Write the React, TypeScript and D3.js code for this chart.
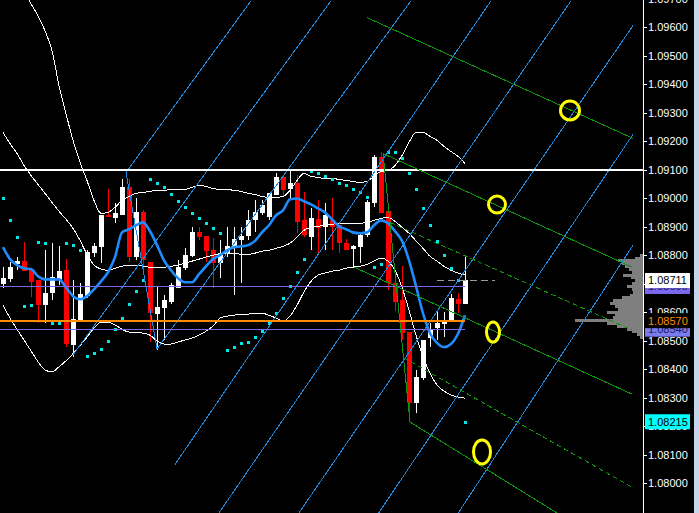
import React from 'react';
import * as d3 from 'd3';

const W = 699;
const H = 513;
const AXIS_X = 643;

// ---- candle data (bar index 0..66) ----
const opens = [
  1.08698, 1.08715, 1.08768, 1.08779, 1.08747, 1.08712, 1.08624, 1.08666, 1.08712, 1.08747,
  1.08484, 1.08572, 1.08656, 1.08807, 1.08828, 1.08940, 1.08929, 1.08940, 1.09038, 1.08793,
  1.08950, 1.08775, 1.08593, 1.08614, 1.08635, 1.08684, 1.08754, 1.08796, 1.08880, 1.08866,
  1.08817, 1.08772, 1.08807, 1.08828, 1.08852, 1.08866, 1.08922, 1.08947, 1.08933, 1.09010,
  1.09073, 1.09031, 1.09052, 1.08922, 1.08863, 1.08926, 1.08898, 1.08922, 1.08905, 1.08842,
  1.08821, 1.08828, 1.08870, 1.08982, 1.09143, 1.08954, 1.08701, 1.08642, 1.08530, 1.08281,
  1.08369, 1.08509, 1.08544, 1.08558, 1.08568, 1.08645, 1.08628,
];
const highs = [
  1.08758, 1.08775, 1.08793, 1.08845, 1.08747, 1.08712, 1.08817, 1.08842, 1.08831, 1.08786,
  1.08712, 1.08701, 1.08817, 1.08842, 1.08940, 1.09031, 1.08982, 1.09069, 1.09069, 1.08999,
  1.08957, 1.08775, 1.08687, 1.08659, 1.08701, 1.08782, 1.08824, 1.08898, 1.08898, 1.08866,
  1.08859, 1.08852, 1.08898, 1.08898, 1.08898, 1.08957, 1.08992, 1.08992, 1.09017, 1.09090,
  1.09080, 1.09097, 1.09080, 1.09020, 1.08964, 1.08992, 1.08982, 1.08999, 1.08905, 1.08856,
  1.08835, 1.08877, 1.08992, 1.09150, 1.09161, 1.08954, 1.08701, 1.08761, 1.08530, 1.08397,
  1.08502, 1.08561, 1.08600, 1.08600, 1.08663, 1.08666, 1.08793,
];
const lows = [
  1.08684, 1.08705, 1.08747, 1.08744, 1.08652, 1.08561, 1.08561, 1.08642, 1.08694, 1.08477,
  1.08442, 1.08572, 1.08649, 1.08793, 1.08772, 1.08933, 1.08912, 1.08940, 1.08775, 1.08782,
  1.08747, 1.08495, 1.08467, 1.08502, 1.08628, 1.08684, 1.08747, 1.08793, 1.08852, 1.08775,
  1.08684, 1.08719, 1.08793, 1.08659, 1.08701, 1.08852, 1.08880, 1.08940, 1.08922, 1.09010,
  1.09003, 1.08992, 1.08877, 1.08863, 1.08817, 1.08800, 1.08817, 1.08817, 1.08807, 1.08817,
  1.08758, 1.08772, 1.08863, 1.08968, 1.08947, 1.08677, 1.08603, 1.08502, 1.08232, 1.08246,
  1.08361, 1.08477, 1.08502, 1.08512, 1.08568, 1.08596, 1.08628,
];
const closes = [
  1.08719, 1.08758, 1.08779, 1.08744, 1.08705, 1.08624, 1.08666, 1.08723, 1.08744, 1.08488,
  1.08575, 1.08663, 1.08810, 1.08831, 1.08940, 1.08933, 1.08947, 1.09038, 1.08793, 1.08950,
  1.08782, 1.08596, 1.08617, 1.08642, 1.08694, 1.08758, 1.08800, 1.08880, 1.08863, 1.08814,
  1.08772, 1.08807, 1.08831, 1.08856, 1.08866, 1.08922, 1.08950, 1.08975, 1.09017, 1.09073,
  1.09027, 1.09052, 1.08915, 1.08870, 1.08929, 1.08894, 1.08940, 1.08898, 1.08842, 1.08817,
  1.08831, 1.08870, 1.08985, 1.09143, 1.08947, 1.08701, 1.08635, 1.08526, 1.08281, 1.08372,
  1.08502, 1.08540, 1.08561, 1.08572, 1.08649, 1.08628, 1.08711,
];

// ---- indicators ----
const maValues = [
  1.08828, 1.08786, 1.08765, 1.08754, 1.08751, 1.08726, 1.08715, 1.08715, 1.08715, 1.08687,
  1.08656, 1.08645, 1.08656, 1.08680, 1.08708, 1.08740, 1.08793, 1.08880, 1.08891, 1.08905,
  1.08915, 1.08884, 1.08835, 1.08782, 1.08747, 1.08719, 1.08705, 1.08705, 1.08733, 1.08761,
  1.08786, 1.08800, 1.08817, 1.08828, 1.08831, 1.08835, 1.08850, 1.08880, 1.08905, 1.08940,
  1.08957, 1.08996, 1.08999, 1.08989, 1.08978, 1.08964, 1.08950, 1.08926, 1.08901, 1.08891,
  1.08880, 1.08877, 1.08880, 1.08905, 1.08922, 1.08912, 1.08884, 1.08850, 1.08782, 1.08691,
  1.08596, 1.08526, 1.08492, 1.08477, 1.08488, 1.08524, 1.08589,
];
const bbUpper = [
  1.09886, 1.09834, 1.09781, 1.09728, 1.09683, 1.09641, 1.09588, 1.09518, 1.09395, 1.09297,
  1.09203, 1.09126, 1.09062, 1.08992, 1.08947, 1.08950, 1.08968, 1.08992, 1.09006, 1.09017,
  1.09020, 1.09024, 1.09027, 1.09027, 1.09031, 1.09031, 1.09031, 1.09038, 1.09045, 1.09041,
  1.09034, 1.09031, 1.09031, 1.09027, 1.09024, 1.09017, 1.09013, 1.09006, 1.09003, 1.09003,
  1.09006, 1.09027, 1.09062, 1.09087, 1.09077, 1.09073, 1.09069, 1.09069, 1.09066, 1.09062,
  1.09059, 1.09055, 1.09059, 1.09077, 1.09094, 1.09097, 1.09115, 1.09150, 1.09196, 1.09231,
  1.09231, 1.09217, 1.09203, 1.09182, 1.09164, 1.09147, 1.09122,
];
const bbMiddle = [
  1.09231, 1.09192, 1.09157, 1.09115, 1.09080, 1.09048, 1.09017, 1.08985, 1.08954, 1.08926,
  1.08894, 1.08852, 1.08803, 1.08765, 1.08751, 1.08747, 1.08754, 1.08761, 1.08765, 1.08765,
  1.08761, 1.08758, 1.08758, 1.08758, 1.08761, 1.08765, 1.08772, 1.08779, 1.08786, 1.08793,
  1.08800, 1.08803, 1.08807, 1.08807, 1.08803, 1.08803, 1.08807, 1.08814, 1.08817, 1.08824,
  1.08831, 1.08842, 1.08863, 1.08887, 1.08898, 1.08901, 1.08905, 1.08908, 1.08912, 1.08912,
  1.08912, 1.08912, 1.08915, 1.08922, 1.08929, 1.08933, 1.08919, 1.08898, 1.08877, 1.08850,
  1.08824, 1.08796, 1.08779, 1.08761, 1.08747, 1.08737, 1.08730,
];
const bbLower = [
  1.08624, 1.08579, 1.08540, 1.08502, 1.08464, 1.08426, 1.08397, 1.08390, 1.08408, 1.08429,
  1.08454, 1.08482, 1.08512, 1.08544, 1.08565, 1.08565, 1.08555, 1.08540, 1.08530, 1.08530,
  1.08526, 1.08519, 1.08499, 1.08488, 1.08488, 1.08495, 1.08502, 1.08509, 1.08519, 1.08533,
  1.08551, 1.08579, 1.08586, 1.08589, 1.08593, 1.08593, 1.08596, 1.08596, 1.08589, 1.08579,
  1.08568, 1.08586, 1.08624, 1.08671, 1.08708, 1.08730, 1.08737, 1.08744, 1.08747, 1.08754,
  1.08758, 1.08761, 1.08768, 1.08779, 1.08790, 1.08779, 1.08747, 1.08687, 1.08607, 1.08519,
  1.08442, 1.08386, 1.08344, 1.08323, 1.08309, 1.08302, 1.08298,
];
const sarValues = [
  1.08999, 1.08922, 1.08863, 1.08621, 1.08624, 1.08845, 1.08842, 1.08561, 1.08561, 1.08842,
  1.08835, 1.08817, 1.08446, 1.08457, 1.08471, 1.08499, 1.08540, 1.08579, 1.08628, 1.08674,
  1.08712, 1.09069, 1.09055, 1.09038, 1.09013, 1.08989, 1.08968, 1.08947, 1.08929, 1.08912,
  1.08894, 1.08877, 1.08467, 1.08477, 1.08492, 1.08495, 1.08512, 1.08533, 1.08561, 1.08596,
  1.08649, 1.08691, 1.08740, 1.08786, 1.09094, 1.09090, 1.09077, 1.09069, 1.09055, 1.09045,
  1.09034, 1.09020, 1.09003, 1.08758, 1.08768, 1.09161, 1.09161, 1.09140, 1.09090, 1.09031,
  1.08964, 1.08905, 1.08850, 1.08800, 1.08754, 1.08712, 1.08215,
];

// ---- price axis ----
const priceTicks = [
  1.080, 1.081, 1.082, 1.083, 1.084, 1.085, 1.086, 1.087, 1.088,
  1.089, 1.090, 1.091, 1.092, 1.093, 1.094, 1.095, 1.096, 1.097,
];

// ---- volume profile ----
const profilePrices = [
  1.0880, 1.0879, 1.0878, 1.0877, 1.0876, 1.0875, 1.0874, 1.0873, 1.0872, 1.0871,
  1.0870, 1.0869, 1.0868, 1.0867, 1.0866, 1.0865, 1.0864, 1.0863, 1.0862, 1.0861,
  1.0860, 1.0859, 1.0858, 1.0857, 1.0856, 1.0855, 1.0854, 1.0853, 1.0852, 1.0851,
];
const profileVolumes = [
  3, 8, 25, 21, 18, 14, 11, 20, 12, 8,
  11, 16, 11, 10, 13, 21, 30, 33, 28, 25,
  36, 28, 30, 68, 36, 26, 16, 11, 6, 3,
];

// ---- horizontal levels ----
const hLevels = [
  { price: 1.091, color: '#ffffff', width: 2, toBar: 92 },
  { price: 1.0869, color: '#7b68ee', width: 1, toBar: 66 },
  { price: 1.0857, color: '#ff8c00', width: 2, toBar: 66 },
  { price: 1.0854, color: '#7b68ee', width: 1, toBar: 66 },
];

// ---- blue trend lines (bar index, price) ----
const blueLines = [
  { t1: 17.57, p1: 1.0909, t2: 35.43, p2: 1.09693 },
  { t1: 17.57, p1: 1.0909, t2: 22.0, p2: 1.08471 },
  { t1: 10.0, p1: 1.0845, t2: 46.86, p2: 1.09693 },
  { t1: 22.0, p1: 1.08471, t2: 58.29, p2: 1.09693 },
  { t1: 24.57, p1: 1.08065, t2: 69.71, p2: 1.09693 },
  { t1: 29.14, p1: 1.07834, t2: 81.14, p2: 1.09693 },
  { t1: 40.57, p1: 1.07834, t2: 90.0, p2: 1.09606 },
  { t1: 52.0, p1: 1.07834, t2: 90.0, p2: 1.09224 },
  { t1: 63.43, p1: 1.07834, t2: 90.0, p2: 1.08835 },
];

// ---- green channel lines ----
const greenSolid = [
  { t1: 52.0, p1: 1.09634, t2: 90.0, p2: 1.0921 },
  { t1: 54.29, p1: 1.09157, t2: 89.86, p2: 1.08758 },
  { t1: 50.14, p1: 1.08758, t2: 89.86, p2: 1.08312 },
  { t1: 58.14, p1: 1.08214, t2: 83.14, p2: 1.07834 },
  { t1: 54.29, p1: 1.09157, t2: 58.14, p2: 1.08214 },
];
const greenDashed = [
  { t1: 55.29, p1: 1.08915, t2: 89.86, p2: 1.08537 },
  { t1: 57.29, p1: 1.08439, t2: 89.86, p2: 1.07985 },
];

// ---- bid line & yellow marks ----
const bidLine = { t1: 62.0, t2: 70.29, price: 1.08711 };
const marks = [
  { t: 81.0, p: 1.09308, rx: 9.5, ry: 9.5 },
  { t: 70.57, p: 1.08978, rx: 8.5, ry: 8.5 },
  { t: 70.0, p: 1.0853, rx: 6.5, ry: 10 },
  { t: 68.43, p: 1.08109, rx: 8.5, ry: 12 },
];

// ---- price tags on the axis ----
const priceTags = [
  { price: 1.0869, text: '1.08690', bg: '#7b68ee', fg: '#1a1a5a' },
  { price: 1.08711, text: '1.08711', bg: '#ffffff', fg: '#000000' },
  { price: 1.0854, text: '1.08540', bg: '#7b7bf0', fg: '#1a1a5a' },
  { price: 1.0857, text: '1.08570', bg: '#000000', fg: '#ff8c00' },
  { price: 1.08215, text: '1.08215', bg: '#00ffff', fg: '#000000' },
];

const FONT = '"Liberation Sans", Arial, sans-serif';

export default function App() {
  const x = d3.scaleLinear().domain([0, 66]).range([3, 465]);
  const y = d3.scaleLinear().domain([1.08, 1.096]).range([483, 27.3]);
  const volX = d3.scaleLinear().domain([0, 68]).range([0, 68]);

  const curve = (vals: number[]) =>
    d3
      .line<number>()
      .x((_, i) => x(i))
      .y((v) => y(v))
      .curve(d3.curveMonotoneX)(vals) || '';

  const seg = (l: { t1: number; p1: number; t2: number; p2: number }) => ({
    x1: x(l.t1),
    y1: y(l.p1),
    x2: x(l.t2),
    y2: y(l.p2),
  });

  const rowH = Math.abs(y(1.0880) - y(1.0881));

  return (
    <svg
      width={W}
      height={H}
      style={{ position: 'fixed', left: 0, top: 0, display: 'block', background: '#000' }}
    >
      <rect x={0} y={0} width={W} height={H} fill="#000" />
      <defs>
        <clipPath id="plotArea">
          <rect x={0} y={0} width={AXIS_X} height={H} />
        </clipPath>
      </defs>

      <g clipPath="url(#plotArea)">
        {/* candles */}
        <g shapeRendering="crispEdges">
          {closes.map((c, i) => {
            const o = opens[i];
            const up = c >= o;
            const col = up ? '#ffffff' : '#ff0000';
            const cx = Math.round(x(i));
            const yt = y(Math.max(o, c));
            const yb = y(Math.min(o, c));
            return (
              <g key={i}>
                <line
                  x1={cx + 0.5}
                  x2={cx + 0.5}
                  y1={y(highs[i])}
                  y2={y(lows[i])}
                  stroke={col}
                  strokeWidth={1}
                />
                <rect x={cx - 2} y={yt} width={5} height={Math.max(1, yb - yt)} fill={col} />
              </g>
            );
          })}
        </g>

        {/* Bollinger bands */}
        <g shapeRendering="crispEdges">
          {[bbUpper, bbMiddle, bbLower].map((arr, k) => (
            <path key={k} d={curve(arr)} fill="none" stroke="#ffffff" strokeWidth={1} />
          ))}
        </g>

        {/* moving average */}
        <path d={curve(maValues)} fill="none" stroke="#1e8cff" strokeWidth={2.6} strokeLinejoin="round" />

        {/* parabolic SAR */}
        <g shapeRendering="crispEdges">
          {sarValues.map((v, i) => (
            <rect key={i} x={Math.round(x(i)) - 1} y={Math.round(y(v)) - 1} width={2.5} height={2.5} fill="#00e8e8" />
          ))}
        </g>

        {/* volume profile */}
        <g shapeRendering="crispEdges">
          {profilePrices.map((p, k) => (
            <rect
              key={k}
              x={AXIS_X - volX(profileVolumes[k])}
              y={y(p) - rowH / 2}
              width={volX(profileVolumes[k])}
              height={rowH}
              fill="#7f7f7f"
            />
          ))}
        </g>

        {/* blue trend lines */}
        <g shapeRendering="crispEdges">
          {blueLines.map((l, k) => (
            <line key={k} {...seg(l)} stroke="#1e8ce6" strokeWidth={1} />
          ))}
        </g>

        {/* horizontal levels */}
        <g shapeRendering="crispEdges">
          {hLevels.map((h, k) => (
            <line
              key={k}
              x1={0}
              x2={x(h.toBar)}
              y1={y(h.price)}
              y2={y(h.price)}
              stroke={h.color}
              strokeWidth={h.width}
            />
          ))}
        </g>

        {/* green channel */}
        <g shapeRendering="crispEdges">
          {greenSolid.map((l, k) => (
            <line key={k} {...seg(l)} stroke="#0e960e" strokeWidth={1} />
          ))}
          {greenDashed.map((l, k) => (
            <line key={k} {...seg(l)} stroke="#0e960e" strokeWidth={1} strokeDasharray="5,3" />
          ))}
        </g>

        {/* bid line */}
        <line
          x1={x(bidLine.t1)}
          x2={x(bidLine.t2)}
          y1={Math.round(y(bidLine.price)) + 0.5}
          y2={Math.round(y(bidLine.price)) + 0.5}
          stroke="#9a9a9a"
          strokeWidth={1}
          strokeDasharray="7,4"
          shapeRendering="crispEdges"
        />

        {/* yellow marks */}
        {marks.map((m, k) => (
          <ellipse key={k} cx={x(m.t)} cy={y(m.p)} rx={m.rx} ry={m.ry} fill="none" stroke="#ffff00" strokeWidth={3} />
        ))}
      </g>

      {/* price axis */}
      <line x1={AXIS_X + 0.5} x2={AXIS_X + 0.5} y1={0} y2={H} stroke="#ffffff" strokeWidth={1} />
      {priceTicks.map((p) => {
        const ty = Math.round(y(p));
        return (
          <g key={p}>
            <line x1={AXIS_X} x2={AXIS_X + 4} y1={ty + 0.5} y2={ty + 0.5} stroke="#ffffff" strokeWidth={1} />
            <text x={648} y={ty + 4} fill="#ffffff" fontSize={11} fontFamily={FONT}>
              {p.toFixed(5)}
            </text>
          </g>
        );
      })}

      {priceTags.map((t, k) => {
        const ty = y(t.price);
        return (
          <g key={k}>
            <rect x={645} y={ty - 7.5} width={45} height={15} fill={t.bg} />
            <text x={648} y={ty + 4} fill={t.fg} fontSize={11} fontFamily={FONT}>
              {t.text}
            </text>
          </g>
        );
      })}

      {/* window border */}
      <rect x={694} y={0} width={5} height={H} fill="#c6d6ea" />
    </svg>
  );
}
